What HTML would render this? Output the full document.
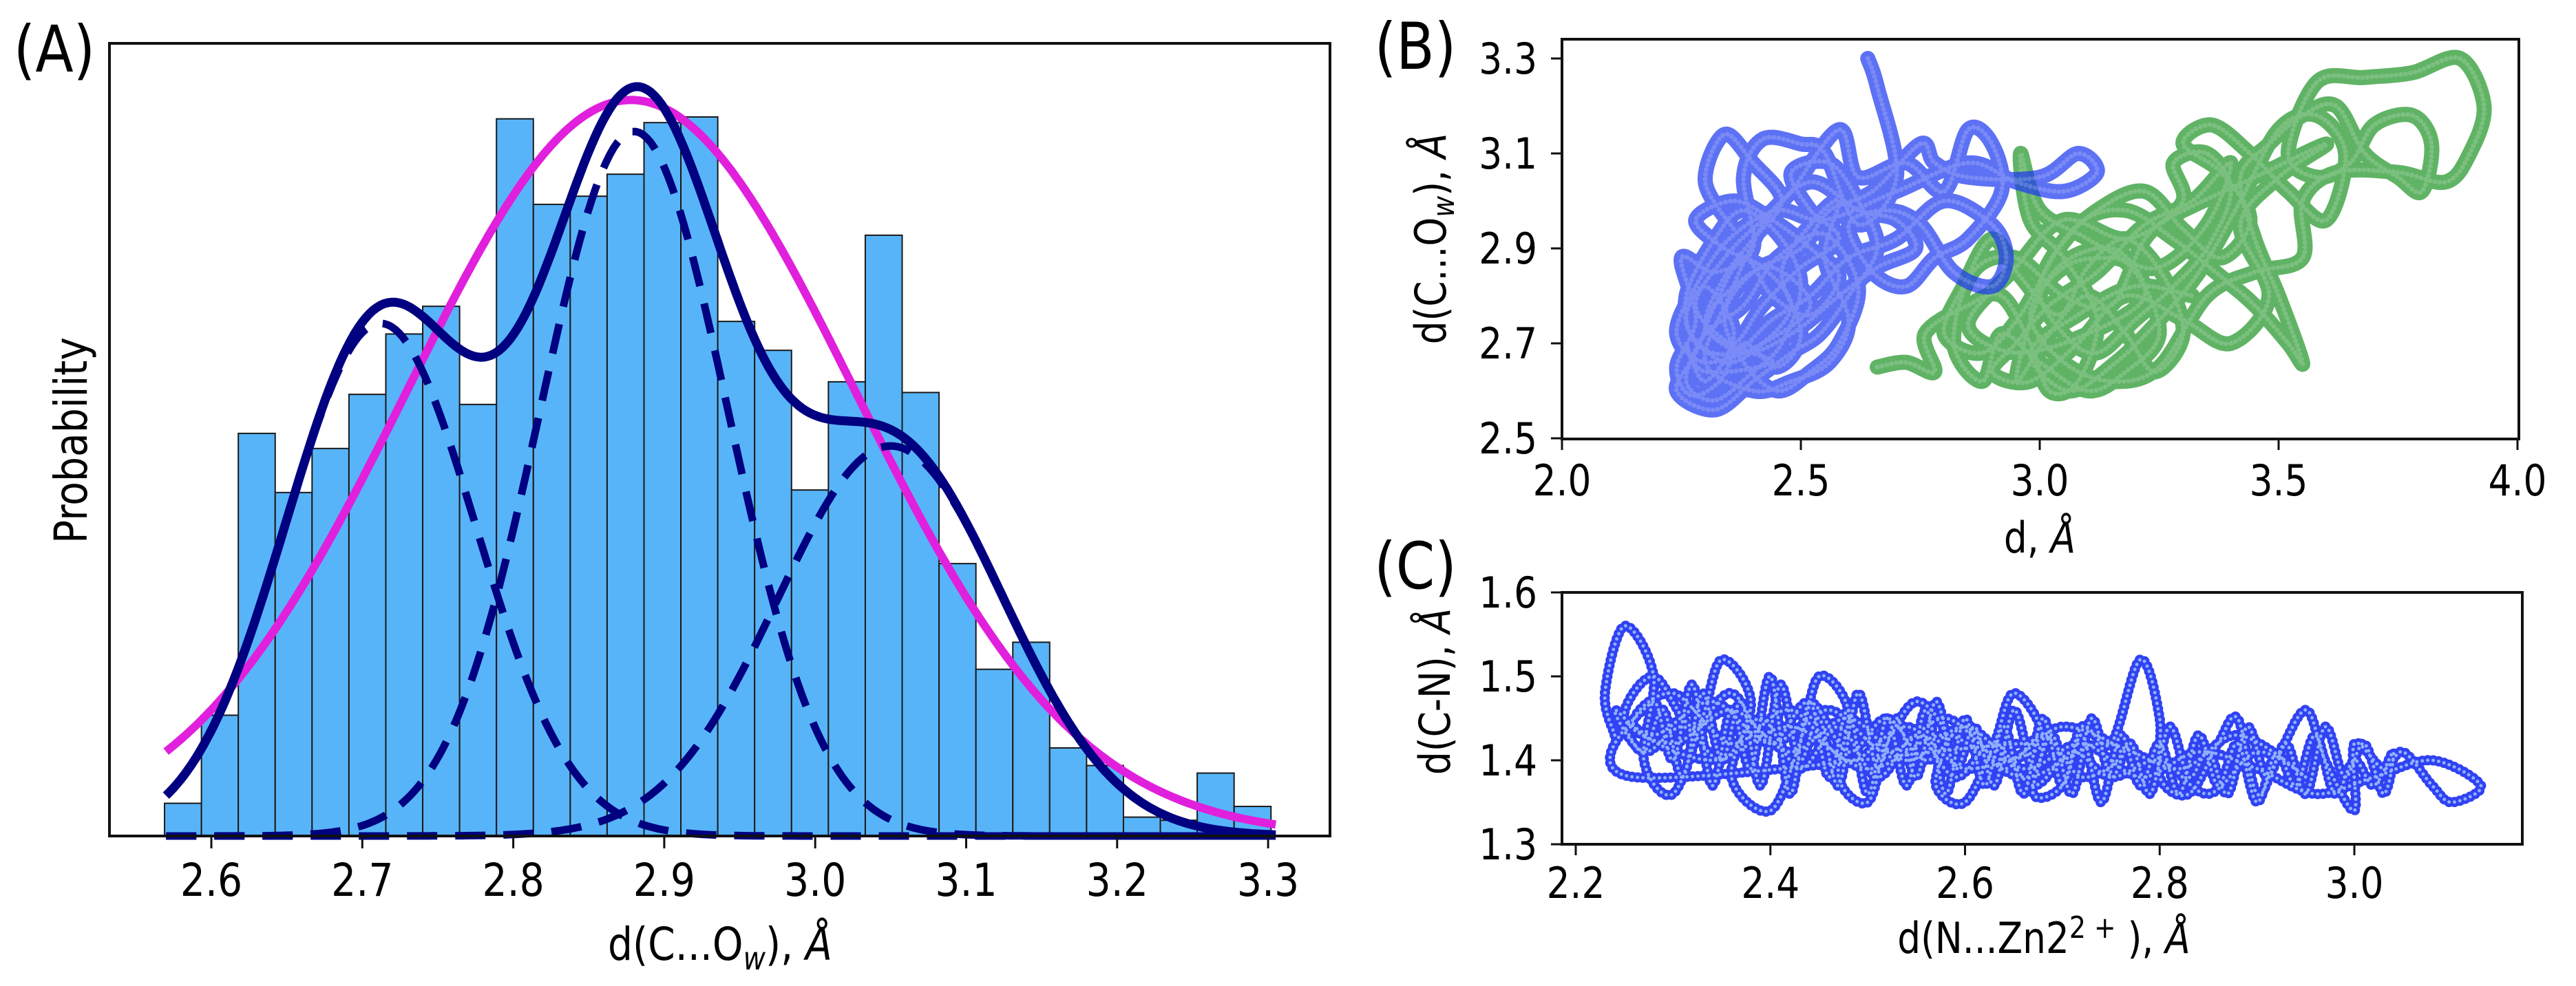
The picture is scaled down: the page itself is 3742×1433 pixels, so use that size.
<!DOCTYPE html>
<html><head><meta charset="utf-8"><style>
html,body{margin:0;padding:0;background:#fff;}
svg{display:block;font-family:"DejaVu Sans","Liberation Sans",sans-serif;}
</style></head><body>
<svg id="fig" width="3742" height="1433" viewBox="0 0 3742 1433" xmlns="http://www.w3.org/2000/svg">
<g id="pa"></g>
<g id="pb"></g>
<g id="pc"></g>
</svg>
<script>
// ---------- Panel A data ----------
const histStart = 2.569;
const histBinWidth = 0.02443;
const histCounts = [0.52,1.92,6.40,5.46,6.16,7.02,7.98,8.42,6.86,11.40,10.04,10.17,10.52,11.34,11.43,8.18,7.72,5.50,7.22,9.55,7.05,4.33,2.65,3.08,1.40,1.12,0.30,0.25,1.00,0.47];
const compMu = [2.712, 2.880, 3.050];
const compSigma = [0.063, 0.062, 0.075];
const compAmp = [8.15, 11.2, 6.2];
const fitMu = [2.878];
const fitSigma = [0.148];
const fitAmp = [11.7];
const curveRange = [2.57, 3.305];
const aXTicks = [2.6,2.7,2.8,2.9,3.0,3.1,3.2,3.3];
const aXTickLabels = ["2.6","2.7","2.8","2.9","3.0","3.1","3.2","3.3"];
const aYMax = 12.6;

// ---------- Panel B data ----------
const bXTicks = [2.0,2.5,3.0,3.5,4.0];
const bXTickLabels = ["2.0","2.5","3.0","3.5","4.0"];
const bYTicks = [2.5,2.7,2.9,3.1,3.3];
const bYTickLabels = ["2.5","2.7","2.9","3.1","3.3"];
const blueTrajX = [2.64,2.66,2.70,2.62,2.55,2.50,2.42,2.38,2.40,2.32,2.25,2.28,2.24,2.27,2.33,2.38,2.45,2.50,2.46,2.52,2.58,2.55,2.60,2.56,2.48,2.40,2.30,2.35,2.42,2.48,2.58,2.62,2.72,2.80,2.85,2.90,2.92,2.85,2.78,2.72,2.65,2.60,2.68,2.75,2.82,2.90,2.93,2.90,2.80,2.70,2.60,2.52,2.44,2.36,2.28,2.26,2.32,2.38,2.46,2.50,2.46,2.40,2.32,2.26,2.30,2.38,2.45,2.55,2.62,2.58,2.52,2.45,2.38,2.34,2.40,2.50,2.56,2.65,2.75,2.78,2.85,3.00,3.08,3.12,3.05,2.95,2.85,2.70,2.55,2.45,2.35,2.28,2.24,2.30,2.42,2.52,2.44,2.36,2.30,2.38,2.48,2.58,2.66,2.74,2.70,2.62,2.52,2.42,2.34,2.28,2.35,2.44,2.30,2.26,
2.30,2.36,2.30,2.26,2.34,2.42,2.48,2.42,2.34,2.28,2.36,2.44,2.52,2.58,2.52,2.44,2.38,2.32,2.28,2.24,2.32,2.40,2.48,2.54,2.60,2.66,2.62,2.56,2.48,2.52,2.58,2.50,2.42,2.36,2.30,2.34,2.40,2.46,2.40,2.34,2.30,2.36];
const blueTrajY = [3.30,3.24,3.05,2.95,3.10,3.12,3.13,3.05,2.90,2.85,2.88,2.75,2.65,2.59,2.62,2.70,2.65,2.72,2.85,2.95,3.00,2.88,2.75,2.66,2.62,2.60,2.66,2.80,2.95,3.02,3.15,3.05,3.08,3.02,3.15,3.12,3.02,2.92,2.88,2.82,2.85,2.95,2.98,2.95,2.85,2.82,2.88,2.95,3.00,2.92,2.88,2.80,2.75,2.68,2.70,2.80,2.92,2.98,2.92,2.82,2.70,2.64,2.58,2.62,2.72,2.78,2.88,2.93,2.82,2.70,2.64,2.60,2.66,2.76,2.85,2.90,2.98,3.02,3.12,3.08,3.05,3.05,3.10,3.06,3.02,3.04,3.08,3.02,2.96,2.98,2.92,2.82,2.72,2.66,2.70,2.78,2.86,2.82,2.74,2.68,2.72,2.80,2.86,2.90,2.96,2.98,3.04,2.96,2.88,2.78,2.70,2.66,2.64,2.70,
2.62,2.72,2.82,2.74,2.66,2.70,2.78,2.86,2.90,2.96,3.00,2.96,2.90,2.84,2.76,2.80,2.88,2.78,2.68,2.60,2.56,2.62,2.68,2.72,2.80,2.90,3.00,3.08,3.06,2.98,2.92,2.86,2.78,2.70,2.74,2.84,2.92,3.00,3.08,3.14,3.04,2.94];
const greenTrajX = [2.66,2.72,2.78,2.76,2.85,2.92,2.98,3.02,3.08,3.12,3.05,2.98,2.96,3.00,3.10,3.20,3.25,3.18,3.10,3.00,2.92,2.88,2.82,2.86,2.95,3.05,3.15,3.22,3.30,3.28,3.35,3.40,3.35,3.28,3.20,3.12,3.05,3.00,3.08,3.18,3.28,3.38,3.45,3.52,3.55,3.50,3.45,3.42,3.48,3.55,3.62,3.68,3.75,3.80,3.82,3.78,3.70,3.65,3.58,3.52,3.58,3.68,3.78,3.88,3.93,3.90,3.85,3.75,3.62,3.55,3.55,3.45,3.35,3.25,3.15,3.05,2.98,3.05,3.15,3.25,3.35,3.40,3.32,3.22,3.12,3.02,2.95,2.90,2.98,3.08,3.18,3.30,3.40,3.48,3.42,3.50,3.60,3.45,3.30,3.18,3.05,2.95,2.85,2.95,3.10,3.22,3.15,3.02,
2.95,3.02,3.10,3.18,3.24,3.30,3.26,3.18,3.10,3.04,2.96,2.90,2.84,2.80,2.88,2.96,3.04,3.12,3.22,3.30,3.38,3.44,3.38,3.30,3.36,3.44,3.52,3.60,3.64,3.58,3.50,3.42,3.34,3.26,3.16,3.06,2.98,3.08,3.20,3.32];
const greenTrajY = [2.65,2.66,2.64,2.72,2.78,2.80,2.70,2.60,2.62,2.75,2.88,2.96,3.10,2.98,2.92,2.85,2.72,2.64,2.60,2.66,2.72,2.62,2.70,2.85,2.88,2.80,2.78,2.92,3.00,3.08,3.10,3.02,2.90,2.82,2.75,2.68,2.72,2.82,2.95,2.98,2.92,2.84,2.78,2.70,2.66,2.80,2.92,3.05,3.12,3.18,3.20,3.10,3.05,3.02,3.12,3.18,3.16,3.08,3.05,3.10,3.25,3.26,3.27,3.30,3.20,3.10,3.04,3.06,3.06,3.00,2.88,2.85,2.80,2.65,2.62,2.66,2.76,2.86,2.88,2.86,2.95,3.08,3.00,2.95,2.85,2.78,2.70,2.64,2.62,2.70,2.80,2.75,2.70,2.80,2.95,3.05,3.12,3.05,2.98,2.92,2.96,2.86,2.74,2.68,2.72,2.80,2.90,2.84,
2.62,2.72,2.80,2.72,2.64,2.72,2.84,2.92,2.86,2.76,2.84,2.92,2.82,2.72,2.68,2.76,2.90,2.98,3.02,2.94,2.88,2.96,3.06,3.12,3.16,3.10,3.02,2.96,3.10,3.18,3.15,3.00,2.86,2.76,2.66,2.60,2.68,2.76,2.82,2.80];

// ---------- Panel C data ----------
const cXTicks = [2.2,2.4,2.6,2.8,3.0];
const cXTickLabels = ["2.2","2.4","2.6","2.8","3.0"];
const cYTicks = [1.3,1.4,1.5,1.6];
const cYTickLabels = ["1.3","1.4","1.5","1.6"];
const cTrajX = [2.24,2.23,2.25,2.28,2.27,2.30,2.33,2.35,2.38,2.36,2.40,2.43,2.45,2.48,2.47,2.50,2.52,2.55,2.58,2.57,2.60,2.63,2.65,2.68,2.67,2.70,2.72,2.75,2.78,2.80,2.80,2.83,2.86,2.88,2.90,2.92,2.95,2.97,3.00,3.00,3.03,3.05,3.08,3.10,3.13,3.08,3.02,2.96,2.90,2.84,2.78,2.72,2.66,2.60,2.54,2.48,2.42,2.36,2.30,2.25,2.28,2.32,2.36,2.40,2.44,2.48,2.52,2.56,2.60,2.64,2.68,2.72,2.76,2.70,2.64,2.58,2.52,2.46,2.40,2.34,2.28,2.24,2.27,2.31,2.35,2.39,2.43,2.47,2.51,2.55,2.59,2.63,2.67,2.71,2.75,2.80,2.85,2.90,2.95,2.88,2.82,2.74,2.66,2.58,2.50,2.42,2.34,2.26,2.30,2.36,2.42,2.48,2.54,2.60,2.66,
2.26,2.28,2.30,2.32,2.34,2.36,2.38,2.40,2.42,2.44,2.46,2.48,2.50,2.52,2.54,2.56,2.58,2.60,2.62,2.64,2.66,2.68,2.70,2.72,2.74,2.76,2.78,2.80,2.82,2.84,2.86,2.88,2.90,2.92,2.94,2.96,2.98,3.00,3.02,3.04,
3.03,3.01,2.99,2.97,2.95,2.93,2.91,2.89,2.87,2.85,2.83,2.81,2.79,2.77,2.75,2.73,2.71,2.69,2.67,2.65,2.63,2.61,2.59,2.57,2.55,2.53,2.51,2.49,2.47,2.45,2.43,2.41,2.39,2.37,2.35,2.33,2.31,2.29,2.27,2.25];
const cTrajY = [1.43,1.48,1.56,1.50,1.40,1.36,1.45,1.52,1.47,1.38,1.34,1.42,1.50,1.46,1.38,1.35,1.42,1.47,1.43,1.37,1.35,1.42,1.48,1.43,1.36,1.37,1.44,1.42,1.52,1.45,1.38,1.36,1.42,1.45,1.36,1.40,1.46,1.40,1.34,1.42,1.39,1.41,1.37,1.35,1.37,1.40,1.38,1.36,1.39,1.41,1.38,1.42,1.39,1.44,1.40,1.45,1.41,1.46,1.42,1.45,1.50,1.44,1.48,1.42,1.47,1.41,1.45,1.40,1.44,1.39,1.43,1.38,1.41,1.44,1.40,1.45,1.41,1.46,1.42,1.47,1.43,1.46,1.41,1.44,1.40,1.45,1.39,1.44,1.38,1.43,1.38,1.42,1.37,1.41,1.38,1.40,1.36,1.41,1.38,1.43,1.39,1.42,1.38,1.43,1.39,1.44,1.40,1.44,1.48,1.42,1.46,1.40,1.44,1.39,1.42,
1.38,1.47,1.40,1.49,1.37,1.46,1.39,1.50,1.36,1.47,1.38,1.46,1.36,1.45,1.37,1.46,1.36,1.45,1.37,1.44,1.36,1.45,1.37,1.43,1.35,1.43,1.37,1.42,1.36,1.43,1.37,1.42,1.35,1.41,1.37,1.43,1.36,1.40,1.37,1.41,
1.36,1.42,1.38,1.44,1.36,1.42,1.38,1.44,1.36,1.41,1.38,1.44,1.36,1.42,1.38,1.45,1.36,1.43,1.39,1.46,1.37,1.44,1.39,1.47,1.38,1.45,1.39,1.48,1.37,1.45,1.40,1.49,1.37,1.47,1.40,1.48,1.38,1.46,1.41,1.44];

const NS = "http://www.w3.org/2000/svg";
const SX = 0.86;
function mk(parent, tag, attrs, text){
  const e = document.createElementNS(NS, tag);
  for (const k in attrs) e.setAttribute(k, attrs[k]);
  if (text !== undefined) e.textContent = text;
  parent.appendChild(e);
  return e;
}
function txt(parent, x, y, size, anchor, rot){
  return mk(parent,'text',{x:0,y:0,'font-size':size,'text-anchor':anchor,transform:'translate('+x+','+y+') rotate('+(rot||0)+') scale('+SX+',1)'});
}
function lin(d0,d1,r0,r1){ return v => r0 + (v-d0)*(r1-r0)/(d1-d0); }
function smoothPath(pts){
  let d = "M"+pts[0][0].toFixed(1)+","+pts[0][1].toFixed(1);
  for (let i=0;i<pts.length-1;i++){
    const p0=pts[Math.max(0,i-1)], p1=pts[i], p2=pts[i+1], p3=pts[Math.min(pts.length-1,i+2)];
    const c1=[p1[0]+(p2[0]-p0[0])/6, p1[1]+(p2[1]-p0[1])/6];
    const c2=[p2[0]-(p3[0]-p1[0])/6, p2[1]-(p3[1]-p1[1])/6];
    d += "C"+c1[0].toFixed(1)+","+c1[1].toFixed(1)+" "+c2[0].toFixed(1)+","+c2[1].toFixed(1)+" "+p2[0].toFixed(1)+","+p2[1].toFixed(1);
  }
  return d;
}
function gauss(x, a, m, s){ return a*Math.exp(-(x-m)*(x-m)/(2*s*s)); }

// ================= Panel A =================
(function(){
  const g = document.getElementById('pa');
  const L=159, R=1932, T=63, B=1215;
  const x = lin(2.6, 2.7, 307, 526.3);
  const y = lin(0, aYMax, B, T);
  const bars = mk(g,'g',{});
  
  
  histCounts.forEach((c,i)=>{
    const x0 = x(histStart + i*histBinWidth), x1 = x(histStart+(i+1)*histBinWidth);
    const r = mk(bars,'rect',{x:x0,y:y(c),width:x1-x0,height:B-y(c),fill:'#58b4f8',stroke:'#1a1a1a','stroke-width':2});
    
    
  });
  const N=300;
  function curve(fn){
    const pts=[];
    for(let k=0;k<=N;k++){const xv=curveRange[0]+(curveRange[1]-curveRange[0])*k/N; pts.push([x(xv),y(fn(xv))]);}
    return "M"+pts.map(p=>p[0].toFixed(1)+","+p[1].toFixed(1)).join("L");
  }
  const mg = mk(g,'path',{d:curve(v=>gauss(v,fitAmp[0],fitMu[0],fitSigma[0])),fill:'none',stroke:'#e020dc','stroke-width':12});
  
  
  compMu.forEach((m,i)=>{
    const p = mk(g,'path',{d:curve(v=>gauss(v,compAmp[i],m,compSigma[i])),fill:'none',stroke:'#000080','stroke-width':11,'stroke-dasharray':'44 26'});
    
    
  });
  const s = mk(g,'path',{d:curve(v=>compMu.reduce((acc,m,i)=>acc+gauss(v,compAmp[i],m,compSigma[i]),0)),fill:'none',stroke:'#000080','stroke-width':13});
  
  
  const fr = mk(g,'rect',{x:L,y:T,width:R-L,height:B-T,fill:'none',stroke:'#111','stroke-width':4});
  
  
  aXTicks.forEach((t,i)=>{
    mk(g,'line',{x1:x(t),x2:x(t),y1:B,y2:B+18,stroke:'#111','stroke-width':3});
    const tl = txt(g,x(t),1302,66,'middle');
    tl.textContent = aXTickLabels[i];
    
    
  });
  const xl = txt(g,1046,1395,66,'middle');
  
  
  xl.innerHTML = 'd(C...O<tspan font-size="46" font-style="italic" dy="14">w</tspan><tspan dy="-14">), </tspan><tspan font-style="italic">Å</tspan>';
  const yl = txt(g,126,640,66,'middle',-90);
  yl.textContent = 'Probability';
  
  
  const pl = txt(g,79,104,94,'middle');
  pl.textContent = '(A)';
  
  
})();

// ================= Panel B =================
(function(){
  const g = document.getElementById('pb');
  const L=2269, R=3659, T=57, B=638;
  const x = lin(2.0, 4.0, 2269, 3657);
  const y = lin(2.5, 3.3, 637, 85);
  const cp = mk(g,'clipPath',{id:'clipB'}); mk(cp,'rect',{x:L,y:T,width:R-L,height:B-T});
  function traj(X,Y,color,name){
    const pts = X.map((v,i)=>[x(v),y(Y[i])]);
    const d = smoothPath(pts);
    const grp = mk(g,'g',{'clip-path':'url(#clipB)'});
    
    
    mk(grp,'path',{d:d,fill:'none',stroke:color,'stroke-width':22,'stroke-opacity':0.72,'stroke-linecap':'round','stroke-linejoin':'round'});
    mk(grp,'path',{d:d,fill:'none',stroke:'#ffffff','stroke-width':7,'stroke-opacity':0.18,'stroke-dasharray':'0 7','stroke-linecap':'round'});
  }
  traj(greenTrajX, greenTrajY, '#22962a', 'green-trajectory');
  traj(blueTrajX, blueTrajY, '#1f3af0', 'blue-trajectory');
  const fr = mk(g,'rect',{x:L,y:T,width:R-L,height:B-T,fill:'none',stroke:'#111','stroke-width':4});
  
  
  bXTicks.forEach((t,i)=>{
    mk(g,'line',{x1:x(t),x2:x(t),y1:B,y2:B+16,stroke:'#111','stroke-width':3});
    const tl = txt(g,x(t),720,62,'middle');
    tl.textContent = bXTickLabels[i];
    
    
  });
  bYTicks.forEach((t,i)=>{
    mk(g,'line',{x1:L-16,x2:L,y1:y(t),y2:y(t),stroke:'#111','stroke-width':3});
    const tl = txt(g,2233,y(t)+22,62,'end');
    tl.textContent = bYTickLabels[i];
    
    
  });
  const xl = txt(g,2963,803,62,'middle');
  
  
  xl.innerHTML = 'd, <tspan font-style="italic">Å</tspan>';
  const yl = txt(g,2100,347,62,'middle',-90);
  
  
  yl.innerHTML = 'd(C...O<tspan font-size="44" font-style="italic" dy="12">w</tspan><tspan dy="-12">), </tspan><tspan font-style="italic">Å</tspan>';
  const pl = txt(g,2056,100,94,'middle');
  pl.textContent = '(B)';
  
  
})();

// ================= Panel C =================
(function(){
  const g = document.getElementById('pc');
  const L=2269, R=3664, T=861, B=1227;
  const x = lin(2.2, 3.0, 2289, 3420);
  const y = lin(1.3, 1.6, 1227, 861);
  const cp = mk(g,'clipPath',{id:'clipC'}); mk(cp,'rect',{x:L,y:T,width:R-L,height:B-T});
  const pts = cTrajX.map((v,i)=>[x(v),y(cTrajY[i])]);
  const d = smoothPath(pts);
  const grp = mk(g,'g',{'clip-path':'url(#clipC)'});
  
  
  mk(grp,'path',{d:d,fill:'none',stroke:'#1a2ef2','stroke-width':15,'stroke-opacity':0.9,'stroke-dasharray':'0 8','stroke-linecap':'round'});
  mk(grp,'path',{d:d,fill:'none',stroke:'#a8ccff','stroke-width':5,'stroke-opacity':0.8,'stroke-dasharray':'0 8','stroke-linecap':'round'});
  const fr = mk(g,'rect',{x:L,y:T,width:R-L,height:B-T,fill:'none',stroke:'#111','stroke-width':4});
  
  
  cXTicks.forEach((t,i)=>{
    mk(g,'line',{x1:x(t),x2:x(t),y1:B,y2:B+16,stroke:'#111','stroke-width':3});
    const tl = txt(g,x(t),1305,62,'middle');
    tl.textContent = cXTickLabels[i];
    
    
  });
  cYTicks.forEach((t,i)=>{
    mk(g,'line',{x1:L-16,x2:L,y1:y(t),y2:y(t),stroke:'#111','stroke-width':3});
    const tl = txt(g,2233,y(t)+22,62,'end');
    tl.textContent = cYTickLabels[i];
    
    
  });
  const xl = txt(g,2969,1385,62,'middle');
  
  
  xl.innerHTML = 'd(N...Zn2<tspan font-size="44" dy="-22">2 +</tspan><tspan dy="22"> ), </tspan><tspan font-style="italic">Å</tspan>';
  const yl = txt(g,2106,1005,62,'middle',-90);
  
  
  yl.innerHTML = 'd(C-N), <tspan font-style="italic">Å</tspan>';
  const pl = txt(g,2056,855,94,'middle');
  pl.textContent = '(C)';
  
  
})();
</script>
</body></html>
